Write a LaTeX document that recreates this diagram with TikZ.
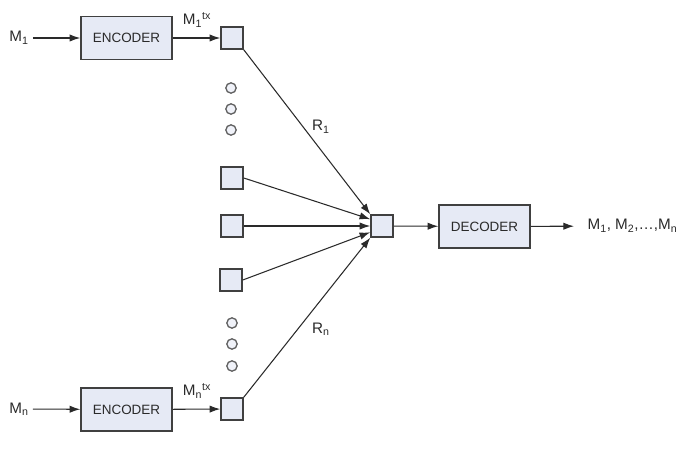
\documentclass[tikz,border=0pt]{standalone}
\usepackage{fontspec}
\setmainfont{Liberation Sans}
\usetikzlibrary{arrows.meta}
\definecolor{boxfill}{HTML}{E6EAF5}
\definecolor{boxline}{HTML}{404040}
\definecolor{txt}{HTML}{2A2A2A}
\tikzset{
  blockbox/.style={draw=boxline, fill=boxfill, line width=1.3pt, minimum width=2.73cm, minimum height=1.3cm, inner sep=0pt, font=\fontsize{11.5}{13}\selectfont, text=txt},
  smallbox/.style={draw=boxline, fill=boxfill, line width=1.3pt, minimum size=0.66cm, inner sep=0pt},
  dotc/.style={circle, draw=boxline!85, fill=boxfill!60, line width=1.1pt, minimum size=0.31cm, inner sep=0pt},
  lbl/.style={font=\fontsize{13}{15}\selectfont, text=txt, inner sep=0pt},
  arr/.style={draw=txt, line width=0.9pt, -{Latex[length=3.2mm,width=2.2mm]}},
  ln/.style={draw=txt, line width=0.9pt}
}
\begin{document}
\begin{tikzpicture}[x=0.03cm,y=-0.03cm]
\useasboundingbox (0,0) rectangle (682,461);
% encoders
\node[blockbox] (e1) at (126.5,38) {ENCODER};
\node[blockbox] (en) at (126.5,409.5) {ENCODER};
\node[blockbox] (dec) at (484.5,226.5) {DECODER};
% small boxes
\node[smallbox] (t1) at (232,38) {};
\node[smallbox] (t2) at (232,178) {};
\node[smallbox] (t3) at (232,226) {};
\node[smallbox] (t4) at (231,280) {};
\node[smallbox] (tn) at (232,409) {};
\node[smallbox] (c) at (382,226) {};
% dots
\node[dotc] (d1) at (231,88) {};
\node[dotc] (d2) at (231,109) {};
\node[dotc] (d3) at (231,130) {};
\node[dotc] (d4) at (232,323) {};
\node[dotc] (d5) at (232,344) {};
\node[dotc] (d6) at (232,366) {};
% labels
\node[lbl, inner xsep=0.12cm] (m1) at (19,38) {M\textsubscript{1}};
\node[lbl, inner xsep=0.12cm] (mn) at (19,409) {M\textsubscript{n}};
\node[lbl] (m1tx) at (197,20) {M\textsubscript{1}\textsuperscript{tx}};
\node[lbl] (mntx) at (197,391) {M\textsubscript{n}\textsuperscript{tx}};
\node[lbl] (r1) at (321,127) {R\textsubscript{1}};
\node[lbl] (rn) at (321,329) {R\textsubscript{n}};
\node[lbl, anchor=west, inner xsep=0.4cm] (out) at (574,226) {M\textsubscript{1}, M\textsubscript{2},\ldots,M\textsubscript{n}};
% connectors
\draw[arr] (m1) -- (e1);
\draw[arr] (mn) -- (en);
\draw[arr] (e1) -- (t1);
\draw[arr] (en) -- (tn);
\draw[arr] (t1.south east) -- (c.north west);
\draw[arr] (t2.east) -- (c.150);
\draw[arr] (t3.east) -- (c.west);
\draw[arr] (t4.east) -- (c.208);
\draw[arr] (tn.north east) -- (c.south west);
\draw[arr] (c) -- (dec);
\draw[arr] (dec) -- (out);
\end{tikzpicture}
\end{document}
